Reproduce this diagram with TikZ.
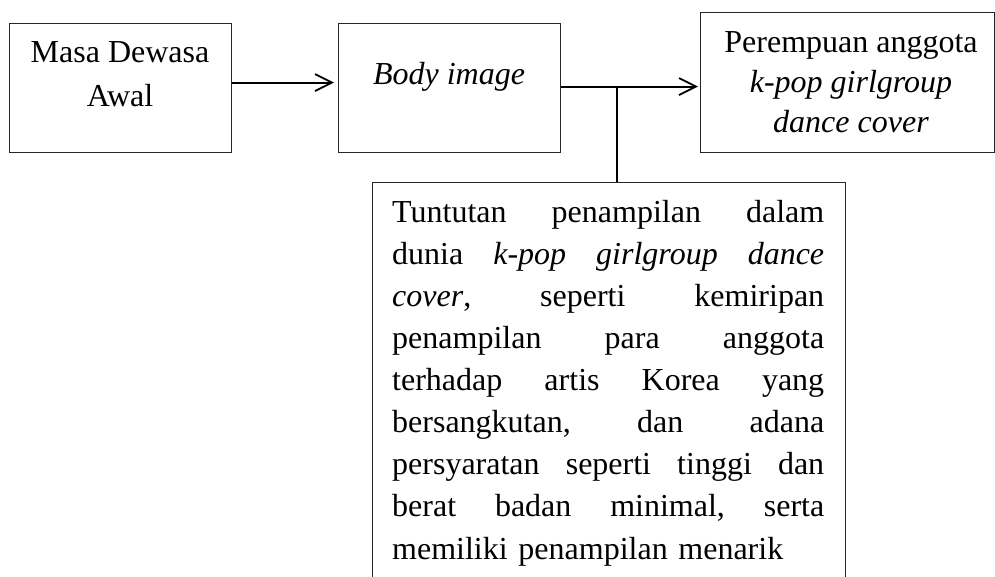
\documentclass[tikz,border=0pt]{standalone}
\usepackage{fontspec}
\setmainfont{Liberation Serif}
\usetikzlibrary{arrows.meta}
\begin{document}
\begin{tikzpicture}[x=1pt,y=-1pt,
  box/.style={draw=black!85, line width=1.2pt, inner sep=0pt, anchor=north west},
  conn/.style={line width=1.8pt, -{Straight Barb[length=17pt,width=17pt]}},
  lbl/.style={inner sep=0pt, anchor=north, align=center, font=\fontsize{32}{#1}\selectfont},
]
\useasboundingbox (0,0) rectangle (995,576);
\node[box, minimum width=222pt, minimum height=129pt] (b1) at (9,23) {};
\node[box, minimum width=222pt, minimum height=129pt] (b2) at (338,23) {};
\node[box, minimum width=294pt, minimum height=140pt] (b3) at (700,12) {};
\node[box, minimum width=473pt, minimum height=430pt] (b4) at (372,182) {};

\node[lbl=44] (t1) at (120,32) {\rule{0pt}{30pt}Masa Dewasa\\Awal};
\node[lbl=42] (t2) at (449,54) {\rule{0pt}{30pt}\textit{Body image}};
\node[lbl=40] (t3) at (851,22) {\rule{0pt}{30pt}Perempuan anggota\\\textit{k-pop girlgroup}\\\textit{dance cover}};
\node[inner sep=0pt, anchor=north west, text width=432pt, align=left,
      font=\fontsize{32}{42.1}\selectfont] (t4) at (392,192) {%
\rule{0pt}{30pt}Tuntutan\hfill penampilan\hfill dalam\\
dunia\hfill \textit{k-pop}\hfill \textit{girlgroup}\hfill \textit{dance}\\
\textit{cover},\hfill seperti\hfill kemiripan\\
penampilan\hfill para\hfill anggota\\
terhadap\hfill artis\hfill Korea\hfill yang\\
bersangkutan,\hfill dan\hfill adana\\
persyaratan\hfill seperti\hfill tinggi\hfill dan\\
berat\hfill badan\hfill minimal,\hfill serta\\
memiliki penampilan menarik};

\draw[conn, shorten >=4pt] ([yshift=5.5pt]b1.east) -- ([yshift=5.5pt]b1.east -| b2.west);
\draw[conn, shorten >=2pt] ([yshift=1.5pt]b2.east) -- ([yshift=1.5pt]b2.east -| b3.west);
\coordinate (j) at (617,86);
\draw[line width=1.8pt] (j) -- (j |- b4.north);
\end{tikzpicture}
\end{document}
